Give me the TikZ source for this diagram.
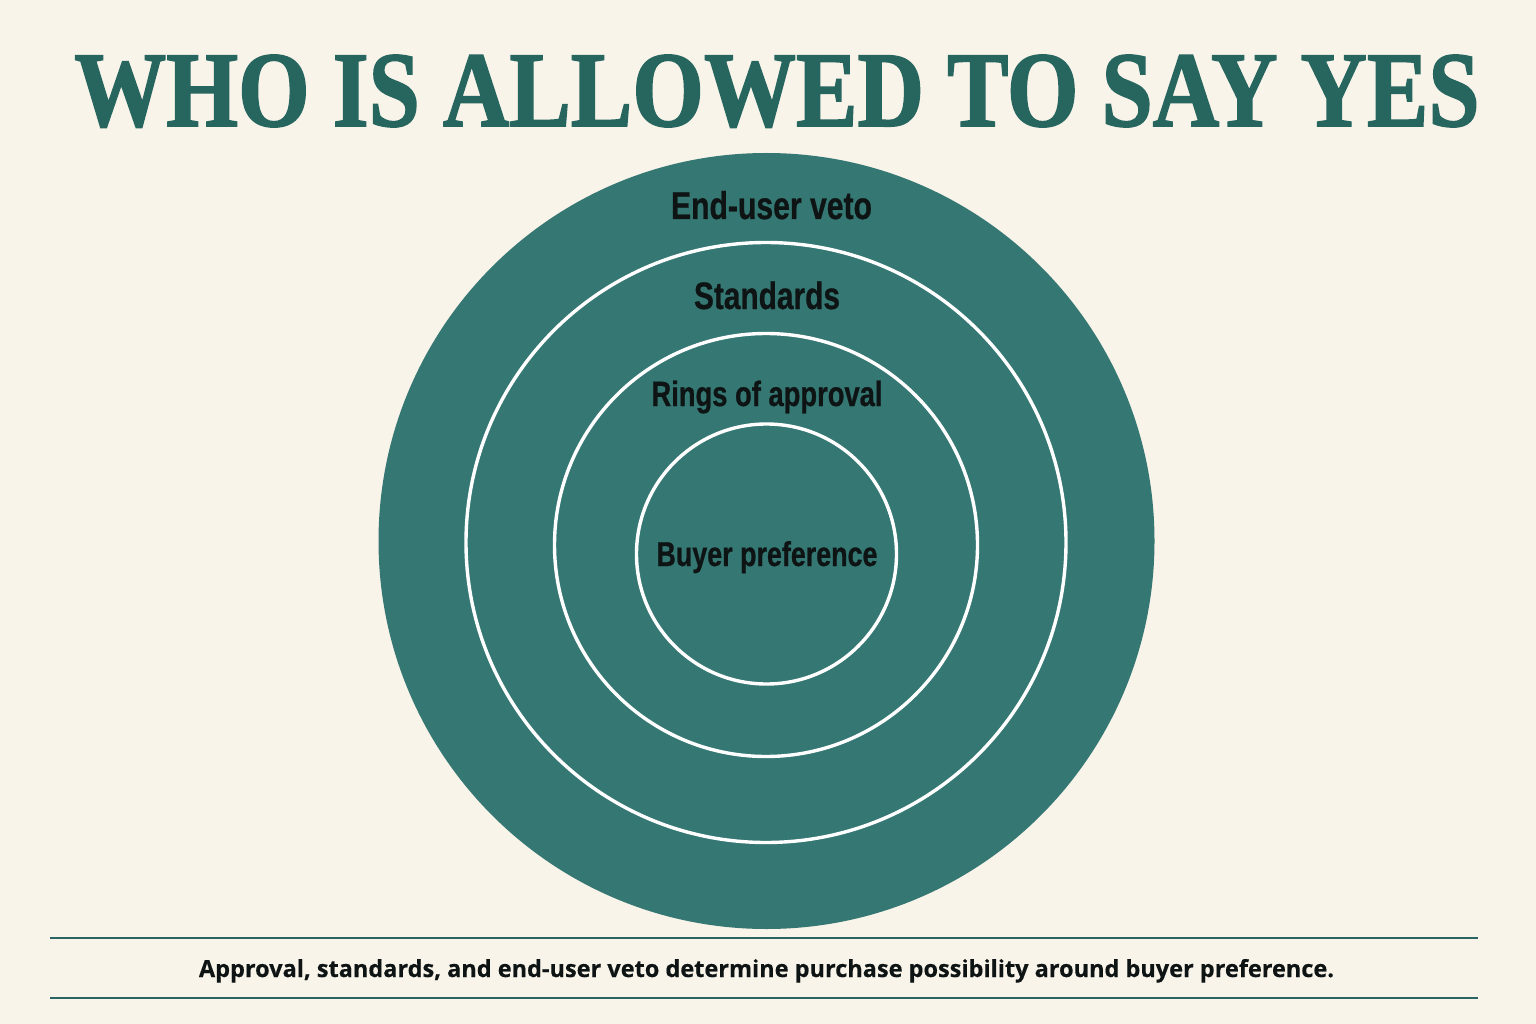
\documentclass[tikz,border=0pt]{standalone}
\usepackage{fontspec}
\usepackage{graphicx}
\setmainfont{Liberation Serif}
\newfontfamily\titlefont[UprightFont=* Bold, FakeBold=1.6]{Liberation Serif}
\newfontfamily\labfont[UprightFont=* Bold, FakeStretch=0.78, FakeBold=0.7]{Liberation Sans}
\newfontfamily\capfont[UprightFont=* Bold, FakeBold=0.4]{Open Sans}
\definecolor{bgc}{HTML}{F8F4EA}
\definecolor{ringc}{HTML}{357773}
\definecolor{titlec}{HTML}{27665F}
\definecolor{rulec}{HTML}{2B6563}
\definecolor{labc}{HTML}{0E1414}
\tikzset{
  ringdisc/.style={circle, fill=ringc, inner sep=0pt, draw=#1, line width=3.4pt},
  ringlabel/.style={anchor=base, inner sep=0pt, text=labc},
  rulestyle/.style={draw=rulec, line width=2.4pt}
}
\newcommand{\lab}[2]{\resizebox{#1}{!}{\labfont #2}}
\begin{document}
\begin{tikzpicture}[x=1pt,y=-1pt]
\useasboundingbox (0,0) rectangle (1536,1024);
\fill[bgc] (0,0) rectangle (1536,1024);
% title
\node[anchor=base, inner sep=0pt, text=titlec] (title) at (777,126)
  {\resizebox{1405pt}{71pt}{\titlefont WHO IS ALLOWED TO SAY YES}};
% rings
\node[circle, fill=ringc, inner sep=0pt, minimum size=776pt] (outer) at (766.5,541) {};
\node[ringdisc=white, minimum size=600pt] (std) at (766,542.5) {};
\node[ringdisc=white, minimum size=423pt] (appr) at (766,545) {};
\node[ringdisc=white, minimum size=260pt] (buyer) at (766.5,554) {};
% labels
\node[ringlabel] (l1) at (771.5,219) {\lab{201pt}{End-user veto}};
\node[ringlabel] (l2) at (767,309) {\lab{146pt}{Standards}};
\node[ringlabel] (l3) at (767,406) {\lab{231pt}{Rings of approval}};
\node[ringlabel] (l4) at (767,566) {\lab{221pt}{Buyer preference}};
% rules and caption
\coordinate (r1a) at (50,938);
\coordinate (r1b) at (1478,938);
\coordinate (r2a) at (50,998);
\coordinate (r2b) at (1478,998);
\draw[rulestyle] (r1a) -- (r1b);
\draw[rulestyle] (r2a) -- (r2b);
\node[anchor=base, inner sep=0pt, text=labc] (cap) at (766.5,977)
  {\resizebox{1135pt}{!}{\capfont Approval, standards, and end-user veto determine purchase possibility around buyer preference.}};
\end{tikzpicture}
\end{document}
